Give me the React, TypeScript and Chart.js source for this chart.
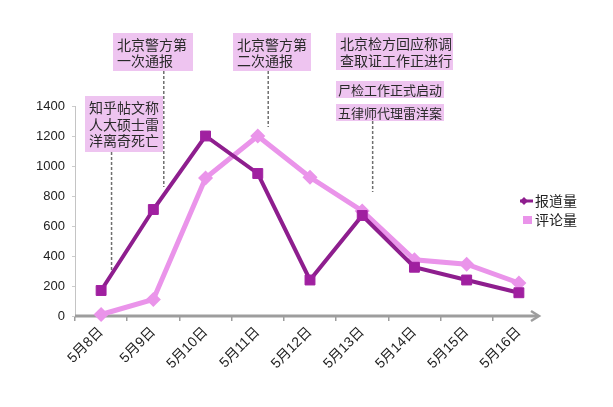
import { useEffect, useRef } from 'react';
import { Chart, registerables } from 'chart.js';

Chart.register(...registerables);

// ---- data ----
const dates = ['5月8日', '5月9日', '5月10日', '5月11日', '5月12日', '5月13日', '5月14日', '5月15日', '5月16日'];
const reportCounts = [170, 710, 1200, 950, 240, 670, 325, 240, 155];
const commentCounts = [10, 110, 920, 1200, 925, 700, 375, 345, 220];
const seriesNames = ['报道量', '评论量'];
const yMin = 0;
const yMax = 1400;
const yStep = 200;

// annotation texts, the date they point at and the value where the dashed line ends
const noteTexts = [
  ['知乎帖文称', '人大硕士雷', '洋离奇死亡'],
  ['北京警方第', '一次通报'],
  ['北京警方第', '二次通报'],
  ['北京检方回应称调', '查取证工作正进行'],
  ['尸检工作正式启动'],
  ['五律师代理雷洋案'],
];
const noteDates = ['5月8日', '5月9日', '5月11日', null, null, '5月13日'];
const noteLineEnds = [307, 860, 1260, null, null, 827];

// ---- layout / style (pixels) ----
const noteBoxes = [
  { left: 85, top: 96, width: 78, height: 56, font: 14, pad: 4 },
  { left: 113, top: 33, width: 80, height: 38, font: 14, pad: 4 },
  { left: 233, top: 33, width: 78, height: 38, font: 14, pad: 4 },
  { left: 336, top: 33, width: 117, height: 37, font: 14, pad: 4 },
  { left: 336, top: 81, width: 108, height: 17, font: 13, pad: 2 },
  { left: 336, top: 104, width: 108, height: 17, font: 13, pad: 2 },
];
const PURPLE_LINE = '#8e1e8e';
const PURPLE_MARK = '#a020a0';
const PINK = '#ea94ea';
const BOX_FILL = '#eec4f0';
const AXIS_GREY = '#9d9d9d';
const TEXT = '#222222';
const CJK = '"Noto Sans CJK SC", "Noto Sans", sans-serif';
const LATIN = '"Liberation Sans", Arial, "Noto Sans CJK SC", sans-serif';

const decor = {
  id: 'decor',
  beforeDatasetsDraw(chart: any) {
    const { ctx, chartArea, scales } = chart;
    const x = scales.x;
    const y = scales.y;
    ctx.save();
    // x axis with arrow
    const ay = chartArea.bottom;
    const tip = chartArea.right - 6;
    ctx.strokeStyle = AXIS_GREY;
    ctx.lineWidth = 3;
    ctx.beginPath();
    ctx.moveTo(chartArea.left, ay);
    ctx.lineTo(tip - 1, ay);
    ctx.stroke();
    ctx.lineWidth = 2.5;
    ctx.beginPath();
    ctx.moveTo(tip - 8, ay - 5);
    ctx.lineTo(tip, ay);
    ctx.lineTo(tip - 8, ay + 5);
    ctx.stroke();
    // dashed connectors
    const spacing = x.getPixelForValue(1) - x.getPixelForValue(0);
    ctx.strokeStyle = '#6f6f6f';
    ctx.lineWidth = 1.5;
    ctx.setLineDash([3, 2]);
    noteTexts.forEach((_, i) => {
      const d = noteDates[i];
      const end = noteLineEnds[i];
      if (d === null || end === null) return;
      const px = x.getPixelForValue(dates.indexOf(d)) + spacing * 0.2;
      const b = noteBoxes[i];
      ctx.beginPath();
      ctx.moveTo(px, b.top + b.height);
      ctx.lineTo(px, y.getPixelForValue(end));
      ctx.stroke();
    });
    ctx.restore();
  },
  afterDatasetsDraw(chart: any) {
    const { ctx } = chart;
    ctx.save();
    // annotation boxes
    noteTexts.forEach((lines, i) => {
      const b = noteBoxes[i];
      ctx.fillStyle = BOX_FILL;
      ctx.fillRect(b.left, b.top, b.width, b.height);
      ctx.fillStyle = '#2a2a2a';
      ctx.font = `${b.font}px ${CJK}`;
      ctx.textBaseline = 'middle';
      ctx.textAlign = 'left';
      const lh = 16.5;
      const startY = b.top + b.height / 2 - ((lines.length - 1) * lh) / 2;
      lines.forEach((t, k) => ctx.fillText(t, b.left + b.pad, startY + k * lh + 0.5));
    });
    // legend
    const ds = chart.data.datasets;
    ctx.font = `14px ${CJK}`;
    ctx.textBaseline = 'middle';
    ctx.fillStyle = TEXT;
    const lx = 535;
    const ly0 = 201;
    const ly1 = 220;
    // series 1 marker: line + diamond
    ctx.strokeStyle = ds[0].borderColor;
    ctx.lineWidth = 3;
    ctx.beginPath();
    ctx.moveTo(520, ly0);
    ctx.lineTo(533, ly0);
    ctx.stroke();
    ctx.fillStyle = ds[0].borderColor;
    ctx.beginPath();
    ctx.moveTo(524, ly0 - 4);
    ctx.lineTo(528, ly0);
    ctx.lineTo(524, ly0 + 4);
    ctx.lineTo(520, ly0);
    ctx.closePath();
    ctx.fill();
    // series 2 marker: square
    ctx.fillStyle = ds[1].borderColor;
    ctx.fillRect(523, ly1 - 4, 9, 8);
    ctx.fillStyle = TEXT;
    ctx.fillText(ds[0].label, lx, ly0);
    ctx.fillText(ds[1].label, lx, ly1);
    ctx.restore();
  },
};

export default function App() {
  const ref = useRef<HTMLCanvasElement>(null);
  useEffect(() => {
    document.body.style.margin = '0';
    const chart = new Chart(ref.current as HTMLCanvasElement, {
      type: 'line',
      data: {
        labels: dates,
        datasets: [
          {
            label: seriesNames[0],
            data: reportCounts,
            borderColor: PURPLE_LINE,
            backgroundColor: PURPLE_MARK,
            borderWidth: 4,
            pointStyle: 'rect',
            pointRadius: 7,
            pointBackgroundColor: PURPLE_MARK,
            pointBorderColor: PURPLE_MARK,
            pointBorderWidth: 1,
            tension: 0,
            clip: false as any,
          },
          {
            label: seriesNames[1],
            data: commentCounts,
            borderColor: PINK,
            backgroundColor: PINK,
            borderWidth: 5,
            pointStyle: 'rectRot',
            pointRadius: 4,
            pointBackgroundColor: PINK,
            pointBorderColor: PINK,
            tension: 0,
            clip: false as any,
          },
        ],
      },
      options: {
        animation: false,
        responsive: true,
        maintainAspectRatio: false,
        layout: { padding: { top: 106, right: 68, bottom: 0, left: 0 } },
        plugins: { legend: { display: false }, tooltip: { enabled: false } },
        scales: {
          x: {
            type: 'category',
            offset: true,
            grid: {
              offset: true,
              drawOnChartArea: false,
              tickLength: 5,
              lineWidth: 1.5,
              color: (c: any) => (c.index === undefined ? 'rgba(0,0,0,0)' : AXIS_GREY),
            },
            border: { display: false },
            ticks: {
              minRotation: 45,
              maxRotation: 45,
              autoSkip: false,
              padding: 3,
              color: TEXT,
              font: { family: LATIN, size: 14 },
            },
            afterFit: (s: any) => {
              s.height = 91;
            },
          },
          y: {
            min: yMin,
            max: yMax,
            ticks: {
              stepSize: yStep,
              padding: 7,
              color: TEXT,
              font: { family: LATIN, size: 13 },
              callback: (v: any) => String(v),
            },
            grid: { drawOnChartArea: false, tickLength: 3, color: '#cccccc' },
            border: { color: '#c4c4c4', width: 1 },
            afterFit: (s: any) => {
              s.width = 75;
            },
          },
        },
      },
      plugins: [decor],
    });
    return () => chart.destroy();
  }, []);
  return (
    <div style={{ position: 'relative', width: 613, height: 407, background: '#ffffff' }}>
      <canvas ref={ref} />
    </div>
  );
}
